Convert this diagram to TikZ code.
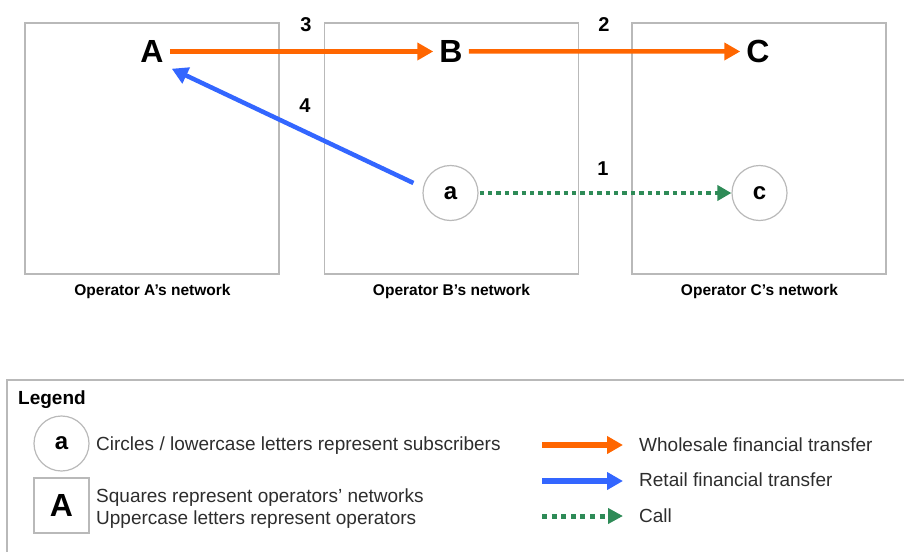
\documentclass[tikz,border=0pt]{standalone}
\usepackage{fontspec}
\setmainfont{Liberation Sans}
\usetikzlibrary{arrows.meta,calc}
\definecolor{wholesale}{RGB}{255,102,0}
\definecolor{retail}{RGB}{51,102,255}
\definecolor{callgreen}{RGB}{46,139,87}
\definecolor{boxgray}{RGB}{185,185,185}
\definecolor{legtext}{RGB}{45,45,45}
\tikzset{
  netbox/.style={draw=boxgray, line width=1.5pt, minimum width=254pt, minimum height=251pt, inner sep=0pt},
  oplabel/.style={font=\fontsize{15.5}{18}\selectfont\bfseries, anchor=base, inner sep=0pt},
  bigletter/.style={font=\fontsize{32}{36}\selectfont\bfseries, inner sep=6pt, anchor=base},
  steplabel/.style={font=\fontsize{20}{24}\selectfont\bfseries, anchor=base, inner sep=0pt},
  subscriber/.style={circle, draw=boxgray, line width=1.2pt, minimum size=55pt, inner sep=0pt, font=\fontsize{24}{28}\selectfont\bfseries},
  opsquare/.style={draw=boxgray, line width=1.2pt, minimum size=55pt, inner sep=0pt, font=\fontsize{32}{36}\selectfont\bfseries},
  legtxt/.style={font=\fontsize{19}{22}\selectfont, text=legtext, anchor=base west, inner sep=0pt},
  wholesalearrow/.style={draw=wholesale, line width=4.5pt, -{Triangle[length=16pt,width=17pt]}},
  retailarrow/.style={draw=retail, line width=4.5pt, -{Triangle[length=16pt,width=17pt]}},
  callarrow/.style={draw=callgreen, line width=4.2pt, dash pattern=on 4.4pt off 4pt, -{Triangle[length=14pt,width=15pt]}},
}
\begin{document}
\begin{tikzpicture}[x=1pt,y=-1pt]
\useasboundingbox (0,0) rectangle (904,551);

% networks
\node[netbox] (netA) at (152,148.5) {};
\node[netbox] (netB) at (451.5,148.5) {};
\node[netbox] (netC) at (759,148.5) {};
\node[oplabel] (labA) at (152.5,295) {Operator A’s network};
\node[oplabel] (labB) at (451.5,295) {Operator B’s network};
\node[oplabel] (labC) at (759.5,295) {Operator C’s network};

% operators
\node[bigletter] (A) at (152,62.5) {A};
\node[bigletter] (B) at (451,62.5) {B};
\node[bigletter] (C) at (758,62.5) {C};

% subscribers
\node[subscriber] (a) at (450.5,193) {a};
\node[subscriber] (c) at (759.5,193) {c};

% flows
\draw[wholesalearrow] (A.east) -- (B.west);
\draw[wholesalearrow] (B.east) -- (C.west);
\draw[retailarrow] ([xshift=-9pt,yshift=10pt]a.west) -- ([xshift=2pt]A.south east);
\draw[callarrow] ([xshift=1pt]a.east) -- (c.west);

% step numbers
\node[steplabel] (n3) at (306,32) {3};
\node[steplabel] (n2) at (604,32) {2};
\node[steplabel] (n4) at (305,112.5) {4};
\node[steplabel] (n1) at (603,175) {1};

% legend
\draw[boxgray, line width=1.5pt] (910,380) -- (7,380) -- (7,560);
\node[font=\fontsize{19}{22}\selectfont\bfseries, anchor=base west, inner sep=0pt] (legtitle) at (18,404) {Legend};
\node[subscriber] (lega) at (61.5,443.5) {a};
\node[opsquare] (legA) at (61.5,505.5) {A};
\node[legtxt] (t1) at (96,450) {Circles / lowercase letters represent subscribers};
\node[legtxt] (t2) at (96,502) {Squares represent operators’ networks};
\node[legtxt] (t3) at (96,524) {Uppercase letters represent operators};
\node[legtxt] (w) at (639,451) {Wholesale financial transfer};
\node[legtxt] (r) at (639,486) {Retail financial transfer};
\node[legtxt] (k) at (639,522) {Call};
\coordinate (ws) at (542,445);
\coordinate (rs) at (542,481);
\coordinate (ks) at (542,516);
\draw[wholesalearrow, line width=5.5pt, -{Triangle[length=16pt,width=17pt]}] (ws) -- (ws -| {$(w.west)+(-16,0)$});
\draw[retailarrow, line width=5.5pt, -{Triangle[length=16pt,width=17pt]}] (rs) -- (rs -| {$(r.west)+(-16,0)$});
\draw[callarrow, line width=5pt, dash pattern=on 5pt off 4.6pt, -{Triangle[length=15pt,width=15pt]}] (ks) -- (ks -| {$(k.west)+(-16,0)$});
\end{tikzpicture}
\end{document}
